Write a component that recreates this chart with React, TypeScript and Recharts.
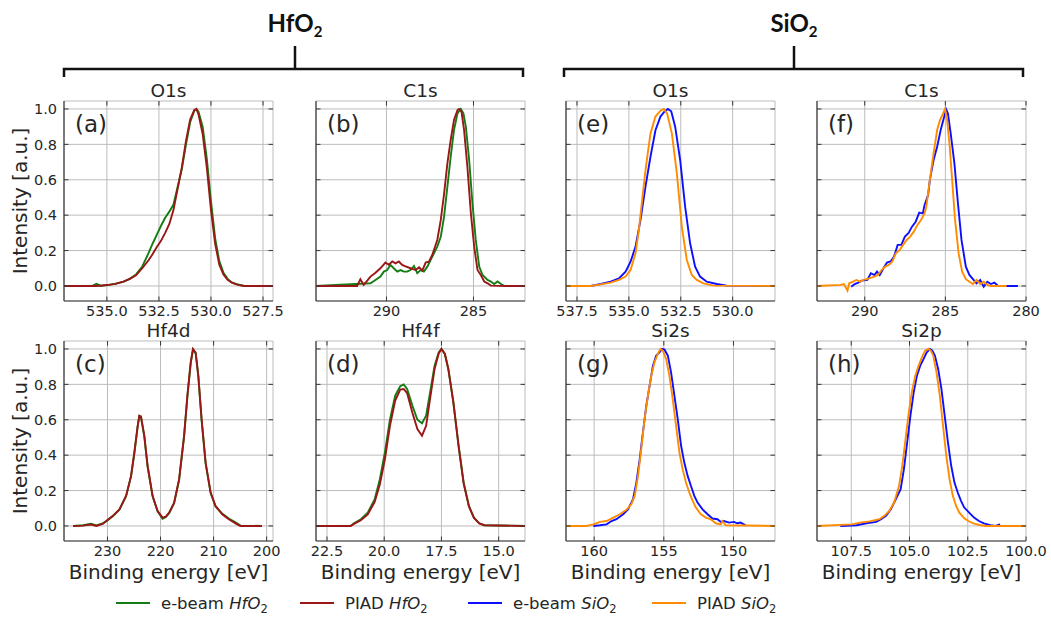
import React from 'react';
import { LineChart, Line, XAxis, YAxis, CartesianGrid } from 'recharts';

// ---- (a) HfO2 O1s ----
const aEbeamE = [537.06, 536.0, 535.7, 535.5, 535.3, 535.0, 534.6, 534.2, 533.9, 533.6, 533.3, 533.0, 532.8, 532.6, 532.4, 532.2, 532.0, 531.8, 531.6, 531.4, 531.2, 531.0, 530.8, 530.7, 530.6, 530.4, 530.2, 530.0, 529.8, 529.6, 529.4, 529.2, 529.0, 528.7, 528.4, 528.0, 527.02];
const aEbeamI = [0, 0, 0, 0.012, 0, 0.005, 0.012, 0.024, 0.04, 0.065, 0.11, 0.185, 0.24, 0.29, 0.34, 0.385, 0.42, 0.46, 0.56, 0.66, 0.8, 0.925, 0.99, 1.0, 0.985, 0.9, 0.72, 0.48, 0.27, 0.14, 0.075, 0.04, 0.02, 0.008, 0, 0, 0];
const aPiadE = [537.06, 536.0, 535.5, 535.0, 534.6, 534.2, 533.9, 533.6, 533.3, 533.0, 532.8, 532.6, 532.4, 532.2, 532.0, 531.8, 531.6, 531.4, 531.2, 531.0, 530.8, 530.7, 530.6, 530.4, 530.2, 530.0, 529.8, 529.6, 529.4, 529.2, 529.0, 528.7, 528.4, 528.0, 527.02];
const aPiadI = [0, 0, 0, 0.005, 0.012, 0.024, 0.04, 0.06, 0.1, 0.145, 0.18, 0.22, 0.255, 0.3, 0.35, 0.43, 0.55, 0.67, 0.82, 0.94, 0.995, 1.0, 0.97, 0.86, 0.67, 0.43, 0.24, 0.12, 0.065, 0.035, 0.018, 0.006, 0, 0, 0];

// ---- (b) HfO2 C1s ----
const bEbeamE = [294.05, 290.92, 290.63, 290.35, 290.15, 289.96, 289.77, 289.58, 289.38, 289.19, 289.0, 288.81, 288.62, 288.42, 288.23, 288.04, 287.85, 287.65, 287.46, 287.27, 287.08, 286.88, 286.69, 286.5, 286.31, 286.12, 285.92, 285.73, 285.58, 285.44, 285.25, 285.06, 284.87, 284.67, 284.48, 284.19, 284.0, 283.81, 283.62, 283.42, 283.23, 282.04];
const bEbeamI = [0, 0.015, 0.034, 0.053, 0.081, 0.09, 0.119, 0.1, 0.081, 0.09, 0.081, 0.081, 0.09, 0.113, 0.072, 0.09, 0.081, 0.109, 0.147, 0.185, 0.222, 0.278, 0.392, 0.561, 0.73, 0.881, 0.975, 1.0, 0.975, 0.9, 0.712, 0.467, 0.26, 0.109, 0.062, 0.034, 0.025, 0.011, 0.025, 0.011, 0, 0];
const bPiadE = [294.05, 291.69, 291.5, 291.31, 291.15, 290.92, 290.63, 290.35, 290.06, 289.87, 289.67, 289.48, 289.29, 289.1, 288.9, 288.62, 288.33, 288.13, 287.94, 287.75, 287.56, 287.37, 287.08, 286.88, 286.69, 286.5, 286.31, 286.12, 285.92, 285.83, 285.69, 285.54, 285.35, 285.15, 284.96, 284.77, 284.58, 284.38, 284.19, 284.0, 283.04, 282.04];
const bPiadI = [0, 0, 0.038, 0.006, 0.025, 0.053, 0.075, 0.1, 0.132, 0.119, 0.138, 0.128, 0.138, 0.119, 0.11, 0.1, 0.09, 0.105, 0.087, 0.132, 0.137, 0.175, 0.26, 0.373, 0.52, 0.693, 0.825, 0.938, 0.994, 1.0, 0.985, 0.88, 0.672, 0.41, 0.222, 0.09, 0.062, 0.025, 0.015, 0.002, 0, 0];

// ---- (c) HfO2 Hf4d ----
const cE = [236.5, 234.6, 233.1, 232.1, 230.9, 230.25, 229.0, 227.75, 226.5, 225.56, 224.94, 224.31, 224.0, 223.69, 223.06, 222.44, 221.5, 220.56, 219.63, 219.0, 218.38, 217.44, 216.5, 215.56, 214.94, 214.31, 213.88, 213.38, 212.88, 212.25, 211.5, 210.56, 209.63, 208.38, 207.13, 205.88, 204.94, 200.88];
const cEbeamI = [0, 0.004, 0.012, 0.003, 0.015, 0.025, 0.055, 0.092, 0.168, 0.28, 0.41, 0.562, 0.62, 0.615, 0.505, 0.335, 0.168, 0.083, 0.04, 0.05, 0.072, 0.128, 0.26, 0.505, 0.73, 0.92, 0.998, 0.975, 0.845, 0.595, 0.352, 0.186, 0.11, 0.07, 0.042, 0.02, 0.002, 0];
const cPiadI = [0, 0.002, 0.008, 0, 0.012, 0.028, 0.057, 0.094, 0.17, 0.283, 0.415, 0.566, 0.623, 0.619, 0.51, 0.34, 0.17, 0.085, 0.047, 0.053, 0.075, 0.132, 0.264, 0.51, 0.736, 0.925, 1.0, 0.98, 0.85, 0.6, 0.358, 0.19, 0.113, 0.066, 0.038, 0.015, 0, 0];

// ---- (d) HfO2 Hf4f ----
const dE = [22.98, 21.47, 21.32, 21.02, 20.72, 20.42, 20.19, 19.97, 19.75, 19.52, 19.3, 19.15, 19.0, 18.77, 18.55, 18.35, 18.17, 18.02, 17.8, 17.62, 17.5, 17.35, 17.2, 16.98, 16.75, 16.53, 16.3, 16.08, 15.85, 15.63, 13.85];
const dEbeamI = [0, 0, 0.015, 0.038, 0.075, 0.15, 0.264, 0.415, 0.6, 0.736, 0.79, 0.8, 0.774, 0.68, 0.6, 0.58, 0.623, 0.736, 0.906, 0.98, 1.0, 0.972, 0.887, 0.7, 0.453, 0.245, 0.113, 0.047, 0.015, 0.004, 0];
const dPiadI = [0, 0, 0.012, 0.032, 0.065, 0.135, 0.236, 0.377, 0.566, 0.708, 0.77, 0.774, 0.751, 0.64, 0.547, 0.51, 0.566, 0.698, 0.887, 0.975, 1.0, 0.972, 0.887, 0.7, 0.45, 0.24, 0.11, 0.045, 0.014, 0.004, 0];

// ---- (e) SiO2 O1s ----
const eEbeamE = [538.03, 536.84, 536.36, 535.88, 535.48, 535.16, 534.92, 534.68, 534.44, 534.2, 533.96, 533.72, 533.48, 533.29, 533.12, 532.96, 532.77, 532.53, 532.29, 532.05, 531.81, 531.57, 531.25, 530.77, 530.29, 527.96];
const eEbeamI = [0, 0, 0.011, 0.024, 0.043, 0.081, 0.137, 0.222, 0.373, 0.561, 0.73, 0.88, 0.957, 0.985, 1.0, 0.987, 0.9, 0.712, 0.448, 0.241, 0.109, 0.053, 0.024, 0.011, 0.002, 0];
const ePiadE = [538.03, 536.84, 536.36, 535.88, 535.48, 535.16, 534.92, 534.68, 534.52, 534.36, 534.2, 533.96, 533.72, 533.48, 533.32, 533.16, 532.93, 532.69, 532.45, 532.21, 531.97, 531.73, 531.41, 530.93, 527.96];
const ePiadI = [0, 0, 0.009, 0.019, 0.034, 0.053, 0.09, 0.185, 0.316, 0.486, 0.655, 0.862, 0.957, 0.99, 1.0, 0.975, 0.862, 0.637, 0.335, 0.147, 0.062, 0.034, 0.015, 0.002, 0];

// ---- (f) SiO2 C1s ----
const fEbeamE = [290.84, 290.62, 290.4, 290.18, 289.84, 289.62, 289.4, 289.24, 289.07, 288.84, 288.62, 288.4, 288.18, 287.96, 287.73, 287.51, 287.29, 287.07, 286.84, 286.62, 286.4, 286.29, 286.07, 285.96, 285.73, 285.51, 285.29, 285.07, 284.96, 284.84, 284.67, 284.44, 284.22, 284.0, 283.73, 283.51, 283.29, 283.07, 282.84, 282.62, 282.4, 282.18, 281.96, 281.73, 280.5];
const fEbeamI = [-0.004, 0.011, 0.019, 0.03, 0.034, 0.072, 0.062, 0.081, 0.062, 0.1, 0.132, 0.138, 0.166, 0.232, 0.232, 0.279, 0.298, 0.335, 0.363, 0.414, 0.41, 0.458, 0.514, 0.599, 0.712, 0.787, 0.881, 0.957, 1.0, 0.975, 0.862, 0.693, 0.467, 0.26, 0.109, 0.062, 0.038, 0.015, 0.034, -0.004, 0.024, 0.011, 0.019, 0, 0];
const fPiadE = [292.96, 291.51, 291.29, 291.07, 290.96, 290.73, 290.51, 290.29, 290.07, 289.73, 289.4, 289.18, 288.96, 288.73, 288.51, 288.29, 288.07, 287.84, 287.62, 287.4, 287.18, 286.96, 286.73, 286.51, 286.29, 286.18, 285.96, 285.73, 285.51, 285.33, 285.18, 285.02, 284.89, 284.73, 284.58, 284.4, 284.18, 283.96, 283.73, 283.51, 283.29, 283.07, 282.84, 282.62, 282.4, 282.18, 281.2];
const fPiadI = [0, 0.006, 0.011, -0.026, 0.015, 0.024, 0.034, 0.024, 0.034, 0.043, 0.053, 0.062, 0.09, 0.109, 0.119, 0.137, 0.185, 0.203, 0.232, 0.26, 0.279, 0.307, 0.345, 0.373, 0.41, 0.448, 0.599, 0.75, 0.881, 0.938, 0.966, 1.0, 0.938, 0.787, 0.6, 0.373, 0.185, 0.081, 0.038, 0.024, 0.011, 0.034, 0.011, 0.024, 0.006, 0, 0];

// ---- (g) SiO2 Si2s ----
const gEbeamE = [160.06, 159.58, 159.11, 158.75, 158.4, 157.92, 157.57, 157.21, 156.97, 156.73, 156.5, 156.26, 156.02, 155.78, 155.55, 155.31, 155.12, 154.95, 154.71, 154.48, 154.24, 154.0, 153.76, 153.53, 153.29, 153.05, 152.81, 152.58, 152.22, 151.86, 151.51, 151.15, 150.91, 150.68, 150.32, 149.96, 149.73, 149.49, 149.13];
const gEbeamI = [0, 0.004, 0.009, 0.028, 0.038, 0.066, 0.094, 0.151, 0.245, 0.377, 0.528, 0.679, 0.792, 0.906, 0.962, 0.981, 1.0, 0.996, 0.962, 0.868, 0.736, 0.604, 0.453, 0.358, 0.283, 0.226, 0.17, 0.132, 0.094, 0.066, 0.042, 0.038, 0.023, 0.028, 0.019, 0.023, 0.015, 0.019, 0.004];
const gPiadE = [162.0, 160.53, 160.06, 159.58, 159.11, 158.63, 158.16, 157.68, 157.33, 157.09, 156.85, 156.62, 156.38, 156.14, 155.9, 155.67, 155.43, 155.24, 155.07, 154.83, 154.6, 154.36, 154.12, 153.88, 153.65, 153.41, 153.17, 152.93, 152.7, 152.34, 151.98, 151.63, 151.27, 150.91, 150.8, 150.56, 147.0];
const gPiadI = [0, 0, 0.009, 0.023, 0.028, 0.047, 0.066, 0.091, 0.123, 0.17, 0.283, 0.434, 0.604, 0.736, 0.849, 0.925, 0.972, 1.0, 0.99, 0.943, 0.849, 0.717, 0.566, 0.415, 0.321, 0.245, 0.189, 0.142, 0.104, 0.066, 0.047, 0.038, 0.015, 0.009, 0.028, 0.004, 0];

// ---- (h) SiO2 Si2p ----
const hEbeamE = [107.97, 107.27, 106.85, 106.43, 106.22, 106.01, 105.8, 105.59, 105.38, 105.24, 105.1, 104.96, 104.82, 104.68, 104.54, 104.4, 104.26, 104.12, 104.02, 103.91, 103.77, 103.63, 103.49, 103.35, 103.21, 103.07, 102.93, 102.79, 102.65, 102.44, 102.23, 102.02, 101.81, 101.53, 101.32, 101.11];
const hEbeamI = [0, 0.004, 0.015, 0.023, 0.038, 0.057, 0.094, 0.151, 0.208, 0.321, 0.472, 0.623, 0.755, 0.849, 0.906, 0.943, 0.981, 1.0, 0.99, 0.962, 0.887, 0.774, 0.623, 0.472, 0.34, 0.245, 0.189, 0.142, 0.104, 0.075, 0.047, 0.028, 0.015, 0.004, 0, 0.009];
const hPiadE = [108.97, 107.48, 107.13, 106.71, 106.29, 106.08, 105.87, 105.66, 105.45, 105.31, 105.17, 105.03, 104.89, 104.75, 104.61, 104.47, 104.33, 104.19, 104.08, 103.98, 103.84, 103.7, 103.56, 103.42, 103.28, 103.14, 103.0, 102.86, 102.65, 102.44, 102.23, 101.95, 101.67, 100.0];
const hPiadI = [0, 0.009, 0.019, 0.026, 0.038, 0.057, 0.085, 0.132, 0.226, 0.34, 0.49, 0.642, 0.764, 0.849, 0.906, 0.953, 0.99, 1.0, 0.99, 0.962, 0.868, 0.736, 0.566, 0.396, 0.264, 0.17, 0.113, 0.075, 0.043, 0.025, 0.013, 0.004, 0, 0];

// axis ticks
const yTicks = [0, 0.2, 0.4, 0.6, 0.8, 1.0];
const aTicks = [527.5, 530, 532.5, 535];
const bTicks = [285, 290];
const cTicks = [200, 210, 220, 230];
const dTicks = [15, 17.5, 20, 22.5];
const eTicks = [530, 532.5, 535, 537.5];
const fTicks = [280, 285, 290];
const gTicks = [150, 155, 160];
const hTicks = [100, 102.5, 105, 107.5];

const steps = (lo: number, hi: number, d: number) => {
  const out: number[] = [];
  for (let v = lo; v <= hi + 1e-9; v += d) out.push(+v.toFixed(3));
  return out;
};
const yMinor = steps(-0.05, 1.0, 0.05);

const pts = (e: number[], v: number[]) => e.map((x, i) => ({ x, y: v[i] }));

const GREEN = '#137d13';
const RED = '#9b1616';
const BLUE = '#0f0fff';
const ORANGE = '#ff8c00';
const INK = '#262626';
const FRAME = '#383838';
const FONT = '"DejaVu Sans", sans-serif';

// plot geometry inside each small chart
const PL = 50, PT = 6, PW = 209, PH = 200, XH = 22;
const PR = PL + PW, PB = PT + PH;
const CW = PR + 24, CH = PB + XH + 2;

interface PanelProps {
  left: number;
  top: number;
  domain: [number, number];
  ticks: number[];
  minor: number[];
  dec: number;
  showY: boolean;
  series: { data: { x: number; y: number }[]; color: string }[];
}

function Panel({ left, top, domain, ticks, minor, dec, showY, series }: PanelProps) {
  const xMajor = (p: any) => (
    <g>
      <line x1={p.x} x2={p.x} y1={PB} y2={PB - 4.5} stroke={FRAME} strokeWidth={1} />
      <line x1={p.x} x2={p.x} y1={PT} y2={PT + 4.5} stroke={FRAME} strokeWidth={1} />
      <text x={p.x} y={PB + 15} textAnchor="middle" fontSize={14.5} fill={INK} fontFamily={FONT}>
        {Number(p.payload.value).toFixed(dec)}
      </text>
    </g>
  );
  const xMinor = (p: any) => (
    <g>
      <line x1={p.x} x2={p.x} y1={PB} y2={PB - 2.5} stroke={FRAME} strokeWidth={0.8} />
      <line x1={p.x} x2={p.x} y1={PT} y2={PT + 2.5} stroke={FRAME} strokeWidth={0.8} />
    </g>
  );
  const yMajor = (p: any) => (
    <g>
      <line x1={PL} x2={PL + 4.5} y1={p.y} y2={p.y} stroke={FRAME} strokeWidth={1} />
      <line x1={PR} x2={PR - 4.5} y1={p.y} y2={p.y} stroke={FRAME} strokeWidth={1} />
      {showY && (
        <text x={PL - 7} y={p.y + 5.2} textAnchor="end" fontSize={14.5} fill={INK} fontFamily={FONT}>
          {Number(p.payload.value).toFixed(1)}
        </text>
      )}
    </g>
  );
  const yMinorTick = (p: any) => (
    <g>
      <line x1={PL} x2={PL + 2.5} y1={p.y} y2={p.y} stroke={FRAME} strokeWidth={0.8} />
      <line x1={PR} x2={PR - 2.5} y1={p.y} y2={p.y} stroke={FRAME} strokeWidth={0.8} />
    </g>
  );

  return (
    <div style={{ position: 'absolute', left: left - PL, top: top - PT }}>
      <LineChart width={CW} height={CH} margin={{ top: PT, right: 24, bottom: 2, left: 0 }}>
        <CartesianGrid stroke="#bcbcbc" strokeWidth={1} />
        <XAxis
          type="number"
          dataKey="x"
          domain={domain}
          reversed
          allowDataOverflow
          ticks={ticks}
          interval={0}
          height={XH}
          tick={xMajor}
          tickLine={false}
          axisLine={{ stroke: FRAME, strokeWidth: 1.2 }}
        />
        <XAxis
          xAxisId="m"
          orientation="top"
          type="number"
          dataKey="x"
          domain={domain}
          reversed
          allowDataOverflow
          ticks={minor}
          interval={0}
          height={0}
          tick={xMinor}
          tickLine={false}
          axisLine={{ stroke: FRAME, strokeWidth: 1.2 }}
        />
        <YAxis
          type="number"
          domain={[-0.085, 1.045]}
          allowDataOverflow
          ticks={yTicks}
          interval={0}
          width={PL}
          tick={yMajor}
          tickLine={false}
          axisLine={{ stroke: FRAME, strokeWidth: 1.2 }}
        />
        <YAxis
          yAxisId="m"
          orientation="right"
          type="number"
          domain={[-0.085, 1.045]}
          allowDataOverflow
          ticks={yMinor}
          interval={0}
          width={0}
          tick={yMinorTick}
          tickLine={false}
          axisLine={{ stroke: FRAME, strokeWidth: 1.2 }}
        />
        {series.map((s, i) => (
          <Line
            key={i}
            data={s.data}
            dataKey="y"
            type="linear"
            stroke={s.color}
            strokeWidth={1.9}
            dot={false}
            activeDot={false}
            isAnimationActive={false}
          />
        ))}
      </LineChart>
    </div>
  );
}

const COLS = [64, 316, 566, 817];
const ROWS = [101, 341];

const panels = [
  { key: 'a', title: 'O1s', col: 0, row: 0, domain: [527.02, 537.06] as [number, number], ticks: aTicks, minor: steps(527.5, 537, 0.5), dec: 1,
    series: [{ data: pts(aEbeamE, aEbeamI), color: GREEN }, { data: pts(aPiadE, aPiadI), color: RED }] },
  { key: 'b', title: 'C1s', col: 1, row: 0, domain: [282.04, 294.05] as [number, number], ticks: bTicks, minor: steps(283, 294, 1), dec: 0,
    series: [{ data: pts(bEbeamE, bEbeamI), color: GREEN }, { data: pts(bPiadE, bPiadI), color: RED }] },
  { key: 'c', title: 'Hf4d', col: 0, row: 1, domain: [198.8, 238.2] as [number, number], ticks: cTicks, minor: steps(200, 238, 2), dec: 0,
    series: [{ data: pts(cE, cEbeamI), color: GREEN }, { data: pts(cE, cPiadI), color: RED }] },
  { key: 'd', title: 'Hf4f', col: 1, row: 1, domain: [13.85, 22.98] as [number, number], ticks: dTicks, minor: steps(14, 22.5, 0.5), dec: 1,
    series: [{ data: pts(dE, dEbeamI), color: GREEN }, { data: pts(dE, dPiadI), color: RED }] },
  { key: 'e', title: 'O1s', col: 2, row: 0, domain: [527.96, 538.03] as [number, number], ticks: eTicks, minor: steps(528, 538, 0.5), dec: 1,
    series: [{ data: pts(eEbeamE, eEbeamI), color: BLUE }, { data: pts(ePiadE, ePiadI), color: ORANGE }] },
  { key: 'f', title: 'C1s', col: 3, row: 0, domain: [280, 292.96] as [number, number], ticks: fTicks, minor: steps(280, 292, 1), dec: 0,
    series: [{ data: pts(fEbeamE, fEbeamI), color: BLUE }, { data: pts(fPiadE, fPiadI), color: ORANGE }] },
  { key: 'g', title: 'Si2s', col: 2, row: 1, domain: [147.02, 162.02] as [number, number], ticks: gTicks, minor: steps(148, 162, 1), dec: 0,
    series: [{ data: pts(gEbeamE, gEbeamI), color: BLUE }, { data: pts(gPiadE, gPiadI), color: ORANGE }] },
  { key: 'h', title: 'Si2p', col: 3, row: 1, domain: [100, 108.97] as [number, number], ticks: hTicks, minor: steps(100, 108.5, 0.5), dec: 1,
    series: [{ data: pts(hEbeamE, hEbeamI), color: BLUE }, { data: pts(hPiadE, hPiadI), color: ORANGE }] },
];

const legendItems = [
  { color: GREEN, x: 116, pre: 'e-beam', mat: 'HfO' },
  { color: RED, x: 300, pre: 'PIAD', mat: 'HfO' },
  { color: BLUE, x: 468, pre: 'e-beam', mat: 'SiO' },
  { color: ORANGE, x: 652, pre: 'PIAD', mat: 'SiO' },
];

const groups = [
  { label: 'HfO', x0: 64, x1: 523, mid: 295 },
  { label: 'SiO', x0: 564, x1: 1023, mid: 794 },
];

export default function App() {
  return (
    <div style={{ position: 'absolute', left: 0, top: 0, width: 1051, height: 626, background: '#fff', fontFamily: FONT }}>
      {panels.map(p => (
        <Panel
          key={p.key}
          left={COLS[p.col]}
          top={ROWS[p.row]}
          domain={p.domain}
          ticks={p.ticks}
          minor={p.minor}
          dec={p.dec}
          showY={p.col === 0}
          series={p.series}
        />
      ))}
      <svg width={1051} height={626} style={{ position: 'absolute', left: 0, top: 0, pointerEvents: 'none' }}>
        {groups.map(g => (
          <g key={g.label}>
            <text x={g.mid} y={32} textAnchor="middle" fontFamily="Lato, sans-serif" fontWeight="bold" fontSize={24} fill="#111">
              {g.label}
              <tspan fontSize={15} dy={5}>2</tspan>
            </text>
            <path
              d={`M${g.x0},77 L${g.x0},69 L${g.x1},69 L${g.x1},77 M${g.mid},69 L${g.mid},46`}
              fill="none"
              stroke="#111"
              strokeWidth={2.5}
            />
          </g>
        ))}
        {panels.map(p => {
          const L = COLS[p.col];
          const T = ROWS[p.row];
          return (
            <g key={p.key} fill={INK} fontFamily={FONT}>
              <text x={L + PW / 2} y={T - 4.5} textAnchor="middle" fontSize={18.5}>{p.title}</text>
              <text x={L + 11} y={T + 31} fontSize={23}>({p.key})</text>
              {p.col === 0 && (
                <text transform={`translate(27,${T + PH / 2}) rotate(-90)`} textAnchor="middle" fontSize={20}>
                  Intensity [a.u.]
                </text>
              )}
              {p.row === 1 && (
                <text x={L + PW / 2} y={579} textAnchor="middle" fontSize={20}>Binding energy [eV]</text>
              )}
            </g>
          );
        })}
        {legendItems.map(l => (
          <g key={l.color}>
            <line x1={l.x} x2={l.x + 34} y1={603} y2={603} stroke={l.color} strokeWidth={2} />
            <text x={l.x + 45} y={609} fontSize={16.5} fill={INK} fontFamily={FONT}>
              {l.pre + ' '}
              <tspan fontStyle="italic">{l.mat}</tspan>
              <tspan fontSize={11.5} dy={4}>2</tspan>
            </text>
          </g>
        ))}
      </svg>
    </div>
  );
}
